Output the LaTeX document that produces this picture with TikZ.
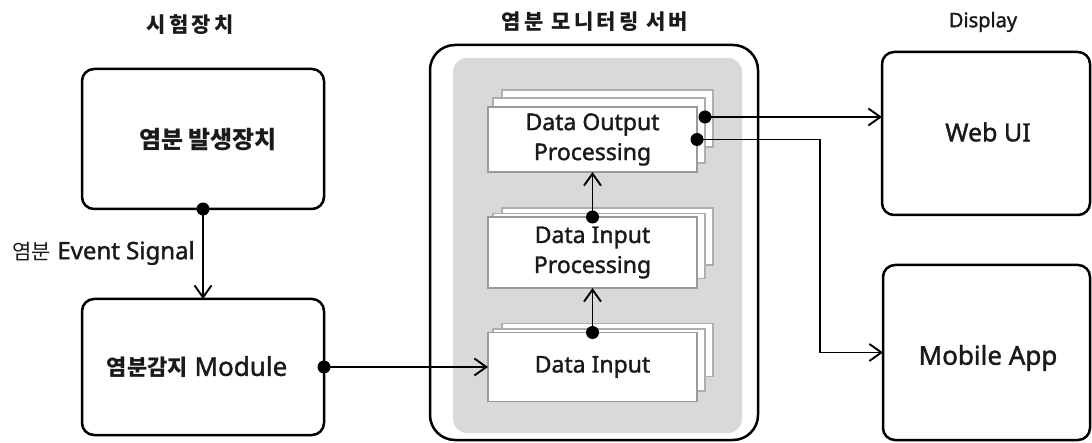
\documentclass[tikz,border=0pt]{standalone}
\usepackage{fontspec}
\setmainfont{Noto Sans}[UprightFeatures={FakeBold=1.5}]
\newfontfamily\kr{Noto Sans CJK KR}
\newfontfamily\krsp{Noto Sans CJK KR}[LetterSpace=15]
\usetikzlibrary{arrows.meta}
\definecolor{panelgray}{HTML}{D9D9D9}
\definecolor{stackgray}{HTML}{9A9A9A}
\definecolor{ink}{HTML}{1A1A1A}
\tikzset{
  bigbox/.style={draw=black, line width=2.5pt, rounded corners=12pt, fill=white, inner sep=0pt, outer sep=0pt},
  stackbox/.style={draw=stackgray, line width=1.6pt, fill=white, inner sep=0pt, outer sep=0pt, minimum width=209pt, align=center},
  backbox/.style={draw=stackgray!80, line width=1.2pt, fill=white, inner sep=0pt, outer sep=0pt},
  conn/.style={line width=1.9pt, draw=black, -{Straight Barb[length=12pt,width=17pt,line width=1.9pt]}},
  dotmark/.style={fill=black},
  title/.style={text=ink, font=\fontsize{21}{26}\selectfont},
  boxtext/.style={text=ink, font=\fontsize{23}{30}\selectfont, align=center},
}
\begin{document}
\begin{tikzpicture}[x=1pt,y=-1pt]
\useasboundingbox (0,0) rectangle (1092,443);
% titles
\node[title] (t1) at (190,25) {\krsp\bfseries 시험장치};
\node[title] (t2) at (595,22) {\krsp\bfseries 염분 모니터링 서버};
\node[title, font=\fontsize{20}{24}\selectfont] (t3) at (983,22) {Display};
% left boxes
\node[bigbox, minimum width=242pt, minimum height=140pt] (gen) at (203,139) {};
\node[boxtext] (gent) at (208,140) {\kr\bfseries\fontsize{24}{30}\selectfont 염분 발생장치};
\node[bigbox, minimum width=242pt, minimum height=136pt] (det) at (203,367) {};
\node[boxtext, font=\fontsize{26}{30}\selectfont] (dett) at (197,367) {{\kr\bfseries\fontsize{22}{30}\selectfont 염분감지} Module};
% server
\node[bigbox, rounded corners=25pt, minimum width=328pt, minimum height=395pt] (srv) at (594,242.5) {};
\node[fill=panelgray, rounded corners=14pt, minimum width=289pt, minimum height=375pt, inner sep=0pt] (panel) at (597.5,245.5) {};
% stacks: output
\node[backbox, minimum width=211pt, minimum height=57pt] (dop3) at (607.5,118.5) {};
\node[backbox, minimum width=212pt, minimum height=65pt] (dop2) at (599,130.5) {};
\node[stackbox, minimum height=65pt, boxtext] (dop) at (592.5,139.5) {Data Output\\Processing};
% stacks: input processing
\node[backbox, minimum width=211pt, minimum height=57pt] (dip3) at (607.5,236.5) {};
\node[backbox, minimum width=212pt, minimum height=65pt] (dip2) at (599,246) {};
\node[stackbox, minimum height=71pt, boxtext] (dip) at (592.5,252.5) {Data Input\\Processing};
% stacks: input
\node[backbox, minimum width=211pt, minimum height=53pt] (di3) at (607.5,350) {};
\node[backbox, minimum width=212pt, minimum height=62pt] (di2) at (599,360) {};
\node[stackbox, minimum height=69pt, boxtext] (di) at (592.5,367) {Data Input};
% display boxes
\node[bigbox, minimum width=208pt, minimum height=163pt] (web) at (986,133.5) {};
\node[text=ink, font=\fontsize{25}{30}\selectfont] (webt) at (988,132) {Web UI};
\node[bigbox, minimum width=207pt, minimum height=175pt] (mob) at (986.5,352.5) {};
\node[text=ink, font=\fontsize{26}{30}\selectfont] (mobt) at (988,358) {Mobile App};
% connectors
\draw[conn] (gen.south) -- (det.north);
\node[text=ink, font=\fontsize{24}{28}\selectfont, anchor=east, inner sep=0pt] (sig) at (195,253) {{\kr\fontsize{21}{28}\selectfont 염분} Event Signal};
\draw[conn] (det.east) -- (di.west);
\draw[conn] (di.north) -- (dip.south);
\draw[conn] (dip.north) -- (dop.south);
\coordinate (o1) at (705,117);
\coordinate (bend) at (820,139.5);
\draw[conn] (o1) -- (o1 -| web.west);
\draw[conn] (dop.east) -- (bend) |- (mob.west);
% dots
\fill[dotmark] (gen.south) circle (6.5pt);
\fill[dotmark] (det.east) circle (6.5pt);
\fill[dotmark] (di.north) circle (6.5pt);
\fill[dotmark] (dip.north) circle (6.5pt);
\fill[dotmark] (o1) circle (6.5pt);
\fill[dotmark] (dop.east) circle (6.5pt);
\end{tikzpicture}
\end{document}
